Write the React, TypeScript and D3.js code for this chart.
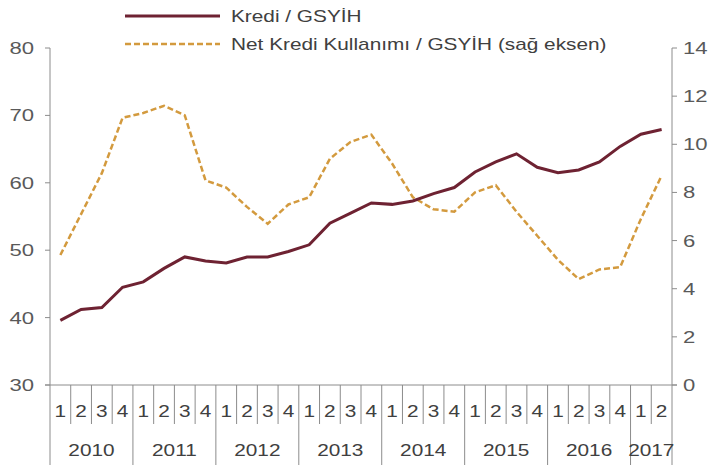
import React, { useEffect, useRef } from 'react';
import * as d3 from 'd3';

const years = ['2010', '2011', '2012', '2013', '2014', '2015', '2016', '2017'];
const quarters = [
  '1', '2', '3', '4', '1', '2', '3', '4', '1', '2', '3', '4', '1', '2', '3', '4',
  '1', '2', '3', '4', '1', '2', '3', '4', '1', '2', '3', '4', '1', '2',
];
const kredi = [
  39.6, 41.2, 41.5, 44.5, 45.3, 47.3, 49.0, 48.4, 48.1, 49.0, 49.0, 49.8, 50.8, 54.0, 55.5,
  57.0, 56.8, 57.3, 58.4, 59.3, 61.6, 63.1, 64.3, 62.3, 61.5, 61.9, 63.1, 65.4, 67.2, 67.9,
];
const netKredi = [
  5.4, 7.1, 8.8, 11.1, 11.3, 11.6, 11.2, 8.5, 8.2, 7.4, 6.7, 7.5, 7.8, 9.4, 10.1,
  10.4, 9.2, 7.8, 7.3, 7.2, 8.0, 8.3, 7.2, 6.2, 5.2, 4.4, 4.8, 4.9, 6.9, 8.7,
];
const leftTicks = [30, 40, 50, 60, 70, 80];
const rightTicks = [0, 2, 4, 6, 8, 10, 12, 14];

const W = 710;
const H = 465;
const KREDI_COLOR = '#6e2232';
const NET_COLOR = '#d39a3e';
const TEXT = '#595959';
const AXIS = '#8c8c8c';
const FONT = '"Liberation Sans", Arial, sans-serif';
// the source image is stretched sideways, so text is widened a bit
const SX = 1.3;

export default function App() {
  const ref = useRef<SVGSVGElement>(null);

  useEffect(() => {
    if (!ref.current) return;
    const svg = d3.select(ref.current);
    svg.selectAll('*').remove();

    const label = (
      x: number, y: number, txt: string | number, anchor: string,
      size = 16, fill = '#404040',
    ) => svg.append('text')
      .attr('transform', `translate(${x},${y}) scale(${SX},1)`)
      .attr('dy', '0.35em')
      .attr('text-anchor', anchor)
      .attr('font-size', size)
      .attr('font-family', FONT)
      .attr('fill', fill)
      .text(txt);

    const left = 50, right = 672, top = 48, bottom = 385;
    const idx = d3.range(quarters.length);
    const x = d3.scaleBand<number>().domain(idx).range([left, right]);
    const yL = d3.scaleLinear().domain([30, 80]).range([bottom, top]);
    const yR = d3.scaleLinear().domain([0, 14]).range([bottom, top]);
    const cx = (i: number) => x(i)! + x.bandwidth() / 2;

    // axes lines
    svg.append('line').attr('x1', left).attr('x2', left).attr('y1', top).attr('y2', bottom)
      .attr('stroke', AXIS);
    svg.append('line').attr('x1', right).attr('x2', right).attr('y1', top).attr('y2', bottom)
      .attr('stroke', AXIS);
    svg.append('line').attr('x1', left - 5).attr('x2', right + 5).attr('y1', bottom).attr('y2', bottom)
      .attr('stroke', AXIS);

    leftTicks.forEach((t) => {
      svg.append('line').attr('x1', left - 5).attr('x2', left).attr('y1', yL(t)).attr('y2', yL(t))
        .attr('stroke', AXIS);
      label(34, yL(t), t, 'end', 17, TEXT);
    });
    rightTicks.forEach((t) => {
      svg.append('line').attr('x1', right).attr('x2', right + 5).attr('y1', yR(t)).attr('y2', yR(t))
        .attr('stroke', AXIS);
      label(683, yR(t), t, 'start', 17, TEXT);
    });

    // quarter separators and labels
    idx.forEach((i) => {
      const xs = x(i)!;
      const isYear = i % 4 === 0;
      svg.append('line').attr('x1', xs).attr('x2', xs).attr('y1', bottom)
        .attr('y2', isYear ? H : 424).attr('stroke', AXIS);
      label(cx(i), 411, quarters[i], 'middle', 16);
    });
    svg.append('line').attr('x1', right).attr('x2', right).attr('y1', bottom).attr('y2', H)
      .attr('stroke', AXIS);

    years.forEach((yr, k) => {
      const s = k * 4;
      const e = Math.min(s + 4, quarters.length);
      const mid = (x(s)! + (x(e - 1)! + x.bandwidth())) / 2;
      label(mid, 450, yr, 'middle', 16);
    });

    // series
    const lineL = d3.line<number>().x((_, i) => cx(i)).y((d) => yL(d));
    const lineR = d3.line<number>().x((_, i) => cx(i)).y((d) => yR(d));
    svg.append('path').attr('d', lineR(netKredi)!).attr('fill', 'none')
      .attr('stroke', NET_COLOR).attr('stroke-width', 2.5).attr('stroke-dasharray', '6,3');
    svg.append('path').attr('d', lineL(kredi)!).attr('fill', 'none')
      .attr('stroke', KREDI_COLOR).attr('stroke-width', 3);

    // legend
    svg.append('line').attr('x1', 125).attr('x2', 220).attr('y1', 16).attr('y2', 16)
      .attr('stroke', KREDI_COLOR).attr('stroke-width', 3);
    label(231, 16, 'Kredi / GSYİH', 'start', 16);
    svg.append('line').attr('x1', 125).attr('x2', 220).attr('y1', 44).attr('y2', 44)
      .attr('stroke', NET_COLOR).attr('stroke-width', 2.5).attr('stroke-dasharray', '6,3');
    label(231, 44, 'Net Kredi Kullanımı / GSYİH (sağ eksen)', 'start', 16);
  }, []);

  return (
    <svg
      ref={ref}
      width={W}
      height={H}
      style={{ position: 'absolute', left: 0, top: 0, background: '#fff' }}
    />
  );
}
